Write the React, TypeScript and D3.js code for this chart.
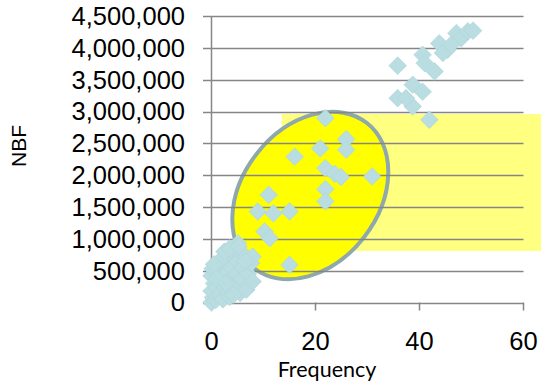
import React from "react";
import * as d3 from "d3";

// Frequency vs NBF observations
const upperFreq = [35.8, 40.6, 41.0, 42.9, 43.8, 45.4, 47.1, 48.0, 49.3, 50.3, 35.8, 38.7, 40.6, 38.7, 41.9, 44.5, 46.1, 37.4];
const upperNbf = [3720000, 3890000, 3760000, 3630000, 4070000, 3970000, 4230000, 4150000, 4260000, 4270000, 3210000, 3420000, 3310000, 3080000, 2870000, 3920000, 4050000, 3210000];

const midFreq = [21.9, 25.9, 25.9, 20.9, 16.0, 21.9, 23.7, 24.9, 30.9, 21.9, 21.9, 11.0, 8.9, 11.9, 15.0, 10.2, 11.2, 15.0];
const midNbf = [2895000, 2565000, 2400000, 2420000, 2290000, 2110000, 2020000, 1970000, 1980000, 1780000, 1590000, 1690000, 1430000, 1400000, 1430000, 1115000, 1010000, 590000];

const lowFreq = [0, 0.3, 0.8, 0, 0.5, 0, 0.2, 1, 1.2, 1.5, 1.8, 2, 2.2, 2.5, 2.8, 3, 3.2, 3.5, 3.5, 3.8, 4, 4.4, 4.5, 4.8, 5, 5.1, 5.5, 5.8, 6, 6.2, 6.7, 7, 7.6, 7.9, 7.9, 1.5, 2.5, 3.5, 1, 0.5, 5.2, 6.5, 4.2, 2.8];
const lowNbf = [0, 80000, 40000, 180000, 300000, 420000, 530000, 230000, 480000, 120000, 350000, 600000, 50000, 250000, 450000, 700000, 150000, 350000, 90000, 550000, 780000, 840000, 250000, 450000, 650000, 930000, 150000, 380000, 550000, 750000, 200000, 450000, 620000, 330000, 720000, 650000, 800000, 850000, 380000, 600000, 880000, 650000, 120000, 300000];

const yTicks = [0, 500000, 1000000, 1500000, 2000000, 2500000, 3000000, 3500000, 4000000, 4500000];
const xTicks = [0, 20, 40, 60];

const W = 541;
const H = 382;

export default function App() {
  const x = d3.scaleLinear().domain([0, 60]).range([211.5, 523.5]);
  const y = d3.scaleLinear().domain([0, 4500000]).range([302.5, 16]);
  const fmt = d3.format(",");

  const points = [
    ...lowFreq.map((f, i) => [f, lowNbf[i]]),
    ...midFreq.map((f, i) => [f, midNbf[i]]),
    ...upperFreq.map((f, i) => [f, upperNbf[i]]),
  ];

  const diamond = d3.symbol().type(d3.symbolDiamond2).size(200)();

  // highlight shapes
  const bandX0 = x(13.5);
  const bandTop = y(2960000);
  const bandBottom = y(810000);
  const ellCx = x(19);
  const ellCy = y(1680000);

  const axisColor = "#868686";
  const font = "'Liberation Sans', Arial, sans-serif";

  return (
    <svg width={W} height={H} style={{ position: "fixed", left: 0, top: 0, background: "#fff" }}>
      <rect x={bandX0} y={bandTop} width={W - bandX0} height={bandBottom - bandTop} fill="#FFFF80" />
      <ellipse
        cx={ellCx}
        cy={ellCy}
        rx={92}
        ry={68}
        transform={`rotate(-52 ${ellCx} ${ellCy})`}
        fill="#FFFF00"
        stroke="#8EA8AB"
        strokeWidth={4}
      />
      {yTicks.map((t) => (
        <g key={t}>
          <line x1={203} x2={x(60)} y1={Math.round(y(t)) + 0.5} y2={Math.round(y(t)) + 0.5} stroke={axisColor} strokeWidth={1.5} />
          <text x={185} y={y(t)} dy="0.35em" textAnchor="end" fontFamily={font} fontSize={25.5} fill="#000">
            {fmt(t)}
          </text>
        </g>
      ))}
      <line x1={x(0)} x2={x(0)} y1={y(4500000)} y2={y(0)} stroke={axisColor} strokeWidth={1.5} />
      {xTicks.map((t) => (
        <g key={t}>
          <line x1={x(t)} x2={x(t)} y1={y(0)} y2={y(0) + 8} stroke={axisColor} strokeWidth={1.5} />
          <text x={x(t)} y={350} textAnchor="middle" fontFamily={font} fontSize={25.5} fill="#000">
            {t}
          </text>
        </g>
      ))}
      {points.map(([f, v], i) => (
        <path
          key={i}
          d={diamond}
          transform={`translate(${x(f)},${y(v)})`}
          fill="#B9DDE1"
          stroke="#ADD5DA"
          strokeWidth={0.6}
        />
      ))}
      <text x={327} y={377} textAnchor="middle" fontFamily="Lato, 'Open Sans', sans-serif" fontSize={21.5} fill="#000">
        Frequency
      </text>
      <text
        transform="translate(26,146) rotate(-90)"
        textAnchor="middle"
        fontFamily={font}
        fontSize={21}
        fill="#000"
      >
        NBF
      </text>
    </svg>
  );
}
